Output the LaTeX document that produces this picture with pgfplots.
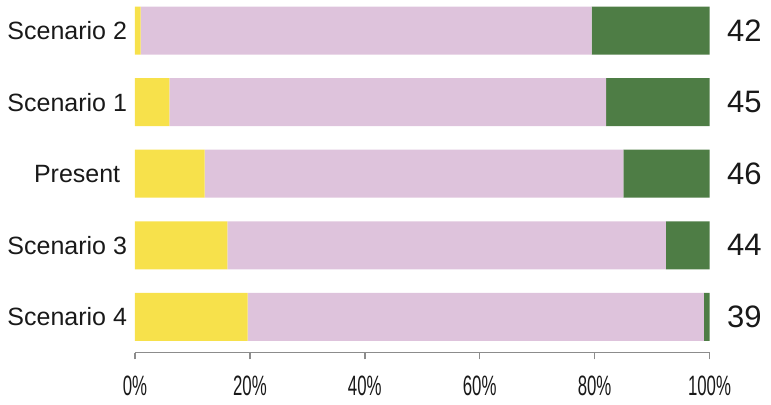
\documentclass[border=0pt]{standalone}
\usepackage{pgfplots}
\pgfplotsset{compat=1.18}
\usepackage{fontspec}
\setmainfont{Liberation Sans}
\newfontfamily\narrowfont[FakeStretch=0.6]{Liberation Sans}
\definecolor{cy}{RGB}{247,225,75}
\definecolor{cp}{RGB}{222,195,220}
\definecolor{cg}{RGB}{78,125,69}
\definecolor{cax}{RGB}{140,140,140}
\begin{document}
\begin{tikzpicture}
\begin{axis}[name=ax,
  xbar stacked, bar width=24pt,
  scale only axis, width=287.25pt, height=176.35pt,
  xmin=0, xmax=100, ymin=-0.5, ymax=4.426,
  axis x line*=bottom, axis y line*=left,
  y axis line style={draw=none},
  x axis line style={draw=cax, line width=0.7pt},
  xtick={0,20,40,60,80,100},
  xticklabels={0\%,20\%,40\%,60\%,80\%,100\%},
  xtick style={draw=cax, line width=0.7pt},
  major tick length=3.3pt, tick align=outside,
  ytick={0,1,2,3,4},
  yticklabels={Scenario 4,Scenario 3,Present\kern3.4pt,Scenario 1,Scenario 2},
  ytick style={draw=none},
  yticklabel style={anchor=east, inner sep=0pt, xshift=-0.5pt, font=\fontsize{12.5}{15}\selectfont, text=black!90},
  xticklabel style={anchor=north, inner sep=0pt, yshift=-8pt, font=\narrowfont\fontsize{14}{16}\selectfont, text=black!90},
  clip=false,
]
\addplot[fill=cy, draw=none] coordinates {(19.6,0) (16.1,1) (12.1,2) (6.0,3) (1.0,4)};
\addplot[fill=cp, draw=none] coordinates {(79.4,0) (76.3,1) (72.9,2) (76.0,3) (78.5,4)};
\addplot[fill=cg, draw=none] coordinates {(1.0,0) (7.6,1) (15.0,2) (18.0,3) (20.5,4)};
\foreach \v/\y in {39/0,44/1,46/2,45/3,42/4}{
  \edef\tmp{\noexpand\node[anchor=west, inner sep=0pt, xshift=8.6pt, font=\noexpand\fontsize{15.5}{18}\noexpand\selectfont, text=black!90] at (axis cs:100,\y) {\v};}
  \tmp
}
\end{axis}
\pgfresetboundingbox
\path ([xshift=-67.5pt]ax.north west) rectangle ([xshift=30.75pt,yshift=-25.65pt]ax.south east);
\end{tikzpicture}
\end{document}
